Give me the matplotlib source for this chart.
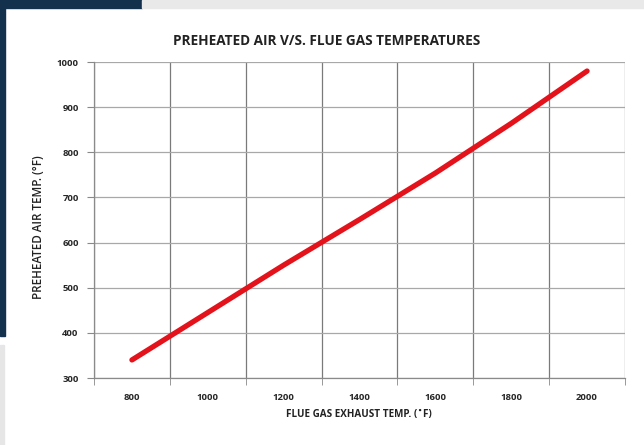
import matplotlib.pyplot as plt
from matplotlib.patches import Rectangle
import numpy as np

flue_gas = ["800", "1000", "1200", "1400", "1600", "1800", "2000"]
preheated_air = [340, 445, 550, 651, 754, 864, 980]
y_ticks = [300, 400, 500, 600, 700, 800, 900, 1000]

fig = plt.figure(figsize=(6.44, 4.45), dpi=100)
fig.patch.set_facecolor("white")

# slide decorations around the chart
fig.patches.append(Rectangle((0, 1 - 8 / 445), 142 / 644, 8 / 445, transform=fig.transFigure,
                             color="#13304d", zorder=0))
fig.patches.append(Rectangle((142 / 644, 1 - 8 / 445), 1, 8 / 445, transform=fig.transFigure,
                             color="#e9e9e9", zorder=0))
fig.patches.append(Rectangle((0, 1 - 336 / 445), 5 / 644, 336 / 445, transform=fig.transFigure,
                             color="#13304d", zorder=0))
fig.patches.append(Rectangle((0, 0), 4 / 644, 1 - 345 / 445, transform=fig.transFigure,
                             color="#e6e6e6", zorder=0))

ax = fig.add_axes([94 / 644, 1 - 378 / 445, 531 / 644, 316 / 445])

x = np.arange(len(flue_gas))
ax.plot(x, preheated_air, color="#e3121b", lw=3.8, solid_capstyle="round", zorder=3)

ax.set_xlim(-0.5, len(flue_gas) - 0.5)
ax.set_ylim(300, 1000)
ax.set_xticks(x)
ax.set_xticks(np.arange(-0.5, len(flue_gas)), minor=True)
ax.set_yticks(y_ticks)
tick_font = dict(family="Open Sans", weight="bold", size=6.8, color="#262626")
ax.set_xticklabels(flue_gas, **tick_font)
ax.set_yticklabels([str(v) for v in y_ticks], **tick_font)

ax.grid(True, which="minor", axis="x", color="#7a7a7a", lw=0.9)
ax.grid(True, which="major", axis="y", color="#a8a8a8", lw=0.9)
ax.tick_params(axis="x", which="major", length=0, pad=11)
ax.tick_params(axis="x", which="minor", length=5, color="#888888")
ax.tick_params(axis="y", length=5, color="#888888", pad=6)

for s in ["top", "right"]:
    ax.spines[s].set_visible(False)
for s in ["left", "bottom"]:
    ax.spines[s].set_color("#8a8a8a")
    ax.spines[s].set_linewidth(0.9)

fig.text(327 / 644, 1 - 41 / 445, "PREHEATED AIR V/S. FLUE GAS TEMPERATURES", ha="center", va="center",
         fontsize=9.8, fontweight="bold", family="Open Sans", color="#222222")
fig.text(0.557, 1 - 415 / 445, "FLUE GAS EXHAUST TEMP. (˚F)", ha="center", va="center",
         fontsize=7.1, fontweight="bold", family="Open Sans", color="#222222")
fig.text(39 / 644, 1 - 227 / 445, "PREHEATED AIR TEMP. (°F)", ha="center", va="center",
         rotation=90, fontsize=8.4, fontweight="semibold", family="Open Sans", color="#222222")

fig.savefig("out.png", dpi=100)
